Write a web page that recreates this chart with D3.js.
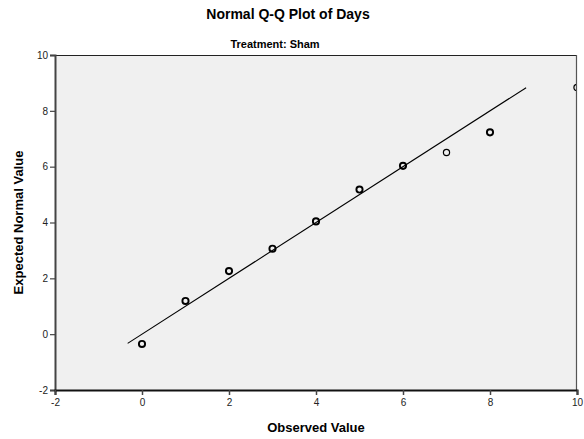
<!DOCTYPE html>
<html>
<head>
<meta charset="utf-8">
<script src="https://cdn.jsdelivr.net/npm/d3@7"></script>
<style>
  html, body { margin: 0; padding: 0; background: #fff; }
  svg { display: block; font-family: "Liberation Sans", Arial, sans-serif; }
</style>
</head>
<body>
<svg id="chart" width="584" height="439"></svg>
<script>
// Observed Days values and their expected normal quantiles
const observed = [0, 1, 2, 3, 4, 5, 6, 7, 8, 10];
const expected = [-0.35, 1.19, 2.26, 3.06, 4.04, 5.18, 6.03, 6.51, 7.23, 8.84];
// Number of cases sharing each observed value (repeated markers look heavier)
const caseCount = [2, 2, 2, 2, 2, 2, 2, 1, 2, 1];
// Reference line y = x, spanning the expected range
const refLine = [-0.33, 8.83];
const xTicks = [-2, 0, 2, 4, 6, 8, 10];
const yTicks = [-2, 0, 2, 4, 6, 8, 10];

const svg = d3.select("#chart");
const plot = { left: 55, right: 577, top: 55, bottom: 390 };

const x = d3.scaleLinear().domain([-2, 10]).range([plot.left, plot.right]);
const y = d3.scaleLinear().domain([-2, 10]).range([plot.bottom, plot.top]);

// Titles
svg.append("text").attr("x", 288).attr("y", 19)
  .attr("text-anchor", "middle").attr("font-size", 14).attr("font-weight", "bold")
  .text("Normal Q-Q Plot of Days");
svg.append("text").attr("x", 275).attr("y", 48)
  .attr("text-anchor", "middle").attr("font-size", 11).attr("font-weight", "bold")
  .text("Treatment: Sham");

// Plot background
svg.append("rect")
  .attr("x", plot.left).attr("y", plot.top)
  .attr("width", plot.right - plot.left).attr("height", plot.bottom - plot.top)
  .attr("fill", "#f0f0f0");

svg.append("clipPath").attr("id", "plotClip")
  .append("rect")
  .attr("x", plot.left).attr("y", plot.top)
  .attr("width", plot.right - plot.left).attr("height", plot.bottom - plot.top);

const g = svg.append("g").attr("clip-path", "url(#plotClip)");

// Reference line
g.append("line")
  .attr("x1", x(refLine[0])).attr("y1", y(refLine[0]))
  .attr("x2", x(refLine[1])).attr("y2", y(refLine[1]))
  .attr("stroke", "#000").attr("stroke-width", 1.1);

// Markers
g.selectAll("circle.pt")
  .data(observed.map((v, i) => ({ ox: v, ey: expected[i], n: caseCount[i] })))
  .join("circle")
  .attr("class", "pt")
  .attr("cx", d => x(d.ox)).attr("cy", d => y(d.ey))
  .attr("r", 3.1)
  .attr("fill", "none")
  .attr("stroke", "#000")
  .attr("stroke-width", d => d.n > 1 ? 1.9 : 1.2);

// Frame: top and right edges
svg.append("line").attr("x1", plot.left).attr("x2", plot.right)
  .attr("y1", plot.top + 0.5).attr("y2", plot.top + 0.5)
  .attr("stroke", "#222").attr("stroke-width", 1.2);
svg.append("line").attr("x1", plot.right - 0.5).attr("x2", plot.right - 0.5)
  .attr("y1", plot.top).attr("y2", plot.bottom)
  .attr("stroke", "#555").attr("stroke-width", 1.2);

const fmt = d => String(d);

// Y axis
const yAxis = svg.append("g")
  .attr("transform", `translate(${plot.left},0)`)
  .call(d3.axisLeft(y).tickValues(yTicks).tickSize(5).tickPadding(2).tickFormat(fmt));
yAxis.select(".domain").attr("stroke", "#444").attr("stroke-width", 2);
yAxis.selectAll(".tick line").attr("stroke", "#444").attr("stroke-width", 1.2);
yAxis.selectAll(".tick text").attr("font-size", 10).attr("fill", "#222")
  .attr("font-family", "Liberation Sans, Arial, sans-serif");

// X axis
const xAxis = svg.append("g")
  .attr("transform", `translate(0,${plot.bottom})`)
  .call(d3.axisBottom(x).tickValues(xTicks).tickSize(5).tickPadding(4).tickFormat(fmt));
xAxis.select(".domain").attr("stroke", "#111").attr("stroke-width", 2);
xAxis.selectAll(".tick line").attr("stroke", "#444").attr("stroke-width", 1.5);
xAxis.selectAll(".tick text").attr("font-size", 10).attr("fill", "#222")
  .attr("font-family", "Liberation Sans, Arial, sans-serif");

// Axis titles
svg.append("text").attr("x", 316).attr("y", 432)
  .attr("text-anchor", "middle").attr("font-size", 13).attr("font-weight", "bold")
  .text("Observed Value");
svg.append("text")
  .attr("transform", `translate(23,${(plot.top + plot.bottom) / 2}) rotate(-90)`)
  .attr("text-anchor", "middle").attr("font-size", 13).attr("font-weight", "bold")
  .text("Expected Normal Value");
</script>
</body>
</html>
